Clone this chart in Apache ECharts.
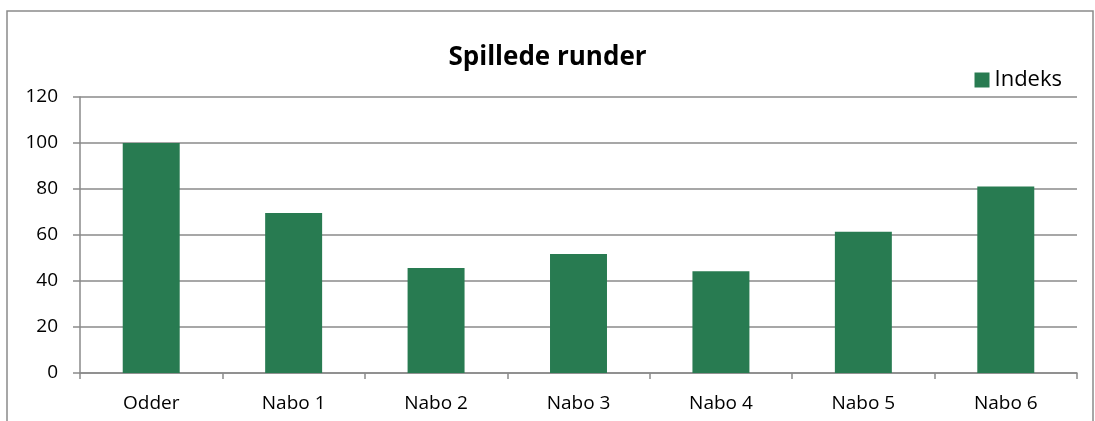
<!DOCTYPE html>
<html>
<head>
<meta charset="utf-8">
<script src="https://cdn.jsdelivr.net/npm/echarts@6/dist/echarts.min.js"></script>
<style>
  html, body { margin: 0; padding: 0; background: #fff; }
  #main { width: 1095px; height: 421px; }
</style>
</head>
<body>
<div id="main"></div>
<script>
var categories = ['Odder', 'Nabo 1', 'Nabo 2', 'Nabo 3', 'Nabo 4', 'Nabo 5', 'Nabo 6'];
var indeks = [100, 69.6, 45.7, 51.7, 44.2, 61.4, 81.1];

var chart = echarts.init(document.getElementById('main'));
var font = 'Open Sans';

var option = {
    backgroundColor: '#fff',
    animation: false,
    textStyle: { fontFamily: font },
    title: {
        text: 'Spillede runder',
        left: 'center',
        top: 40,
        textStyle: { fontSize: 26, fontWeight: 'bold', color: '#000', fontFamily: font }
    },
    legend: {
        data: ['Indeks'],
        right: 28,
        top: 64,
        itemWidth: 15,
        itemHeight: 15,
        itemGap: 6,
        icon: 'rect',
        textStyle: { fontSize: 22, color: '#000', fontFamily: font }
    },
    graphic: [{
        type: 'rect',
        shape: { x: 7, y: 11, width: 1086, height: 420 },
        style: { fill: 'none', stroke: '#8a8a8a', lineWidth: 1.5 },
        silent: true
    }],
    grid: { left: 80, right: 18, top: 97, bottom: 48 },
    xAxis: {
        type: 'category',
        data: categories,
        axisLine: { lineStyle: { color: '#8a8a8a', width: 1.5 } },
        axisTick: { show: true, length: 6, lineStyle: { color: '#8a8a8a', width: 1.5 } },
        axisLabel: { color: '#000', fontSize: 19, margin: 21 }
    },
    yAxis: {
        type: 'value',
        min: 0,
        max: 120,
        interval: 20,
        axisLine: { show: true, lineStyle: { color: '#8a8a8a', width: 1.5 } },
        axisTick: { show: true, length: 7, lineStyle: { color: '#8a8a8a', width: 1.5 } },
        axisLabel: { color: '#000', fontSize: 19, margin: 22 },
        splitLine: { lineStyle: { color: '#8a8a8a', width: 1.5 } }
    },
    series: [{
        name: 'Indeks',
        type: 'bar',
        data: indeks,
        barWidth: '40%',
        itemStyle: { color: '#287B51' }
    }]
};
chart.setOption(option);
</script>
</body>
</html>
